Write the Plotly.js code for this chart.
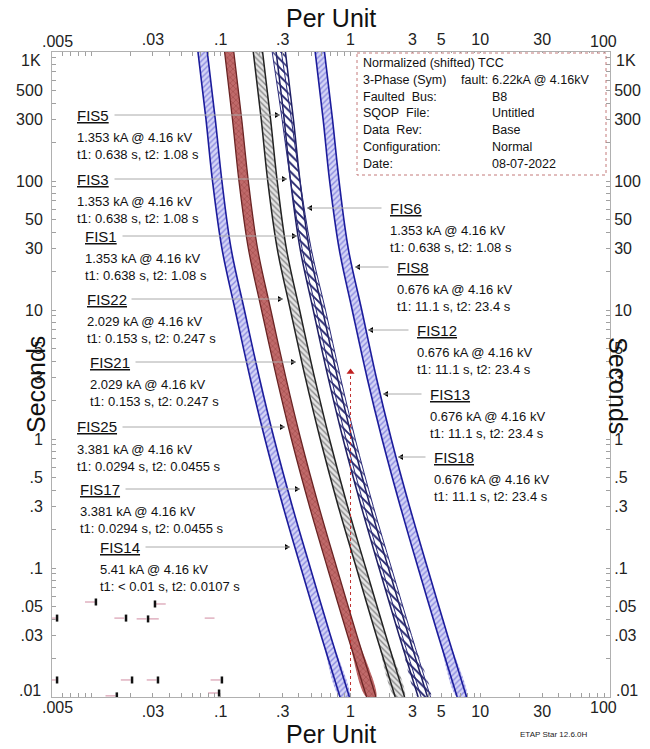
<!DOCTYPE html>
<html><head><meta charset="utf-8">
<script src="https://cdn.plot.ly/plotly-3.0.1.min.js"></script>
<style>html,body{margin:0;padding:0;background:#fff}</style>
</head><body><div id="chart" style="width:650px;height:749px"></div>
<script>
// ---------- DATA ----------
const times = [1000, 300, 100, 30, 10, 3, 1, 0.3, 0.1, 0.03, 0.01];
// FIS14 (5.41 kA)
const fis14Min = [0.0667, 0.0769, 0.0863, 0.102, 0.129, 0.168, 0.219, 0.302, 0.415, 0.593, 0.830];
const fis14Max = [0.0787, 0.0907, 0.102, 0.120, 0.152, 0.198, 0.258, 0.356, 0.490, 0.700, 0.980];
// FIS25 / FIS17 (3.381 kA)
const fis25Min = [0.107, 0.123, 0.138, 0.163, 0.206, 0.269, 0.350, 0.483, 0.664, 0.949, 1.33];
const fis25Max = [0.126, 0.145, 0.163, 0.192, 0.243, 0.317, 0.413, 0.570, 0.784, 1.12, 1.57];
// FIS22 / FIS21 (2.029 kA)
const fis22Min = [0.178, 0.205, 0.230, 0.272, 0.344, 0.448, 0.584, 0.805, 1.11, 1.58, 2.21];
const fis22Max = [0.210, 0.242, 0.272, 0.320, 0.405, 0.528, 0.688, 0.949, 1.31, 1.87, 2.61];
// FIS5 / FIS3 / FIS1 (1.353 kA)
const fis5Min = [0.267, 0.308, 0.345, 0.408, 0.516, 0.672, 0.876, 1.21, 1.66, 2.37, 3.32];
const fis5Max = [0.315, 0.363, 0.408, 0.480, 0.608, 0.792, 1.03, 1.42, 1.96, 2.80, 3.92];
// FIS6 (1.353 kA) - slightly different curve, crossing the group above
const fis6Min = [0.249, 0.297, 0.345, 0.423, 0.544, 0.709, 0.924, 1.277, 1.751, 2.50, 3.50];
const fis6Max = [0.293, 0.350, 0.408, 0.497, 0.641, 0.836, 1.087, 1.498, 2.068, 2.954, 4.136];
// FIS8 / FIS12 / FIS13 / FIS18 (0.676 kA)
const fis8Min = [0.534, 0.615, 0.690, 0.816, 1.03, 1.34, 1.75, 2.42, 3.32, 4.74, 6.64];
const fis8Max = [0.630, 0.726, 0.816, 0.960, 1.22, 1.58, 2.06, 2.85, 3.92, 5.60, 7.84];

// fault marker
const faultPU = [1, 1];
const faultT = [0.01, 3.3];

// small device marks at lower left
const markPU = [0.00547, 0.0109, 0.0186, 0.0275, 0.0311, 0.00547, 0.0207, 0.0328, 0.102, 0.0158, 0.097];
const markT  = [0.0409, 0.0545, 0.0409, 0.0403, 0.0526, 0.01355, 0.01355, 0.01355, 0.01355, 0.0102, 0.01074];
const markLabelPU = [0.0049, 0.0098, 0.0165, 0.0245, 0.0345, 0.0049, 0.0185, 0.0293, 0.091, 0.0141, 0.087, 0.0305, 0.082];
const markLabelT  = [0.0409, 0.0545, 0.0409, 0.0403, 0.0526, 0.01355, 0.01355, 0.01355, 0.01355, 0.0102, 0.01074, 0.0403, 0.0409];

// tick labels
const xTickVals = [0.005, 0.03, 0.1, 0.3, 1, 3, 5, 10, 30, 100];
const xTickText = ['.005', '.03', '.1', '.3', '1', '3', '5', '10', '30', '100'];
const yTickVals = [1000, 500, 300, 100, 50, 30, 10, 5, 3, 1, 0.5, 0.3, 0.1, 0.05, 0.03, 0.01];
const yTickText = ['1K', '500', '300', '100', '50', '30', '10', '5', '3', '1', '.5', '.3', '.1', '.05', '.03', '.01'];

// labels
const fisNames = ['FIS5', 'FIS3', 'FIS1', 'FIS22', 'FIS21', 'FIS25', 'FIS17', 'FIS14',
                  'FIS6', 'FIS8', 'FIS12', 'FIS13', 'FIS18'];
const fisCurrent = ['1.353 kA @ 4.16 kV', '1.353 kA @ 4.16 kV', '1.353 kA @ 4.16 kV',
                    '2.029 kA @ 4.16 kV', '2.029 kA @ 4.16 kV',
                    '3.381 kA @ 4.16 kV', '3.381 kA @ 4.16 kV', '5.41 kA @ 4.16 kV',
                    '1.353 kA @ 4.16 kV', '0.676 kA @ 4.16 kV', '0.676 kA @ 4.16 kV',
                    '0.676 kA @ 4.16 kV', '0.676 kA @ 4.16 kV'];
const fisTimes = ['t1: 0.638 s, t2: 1.08 s', 't1: 0.638 s, t2: 1.08 s', 't1: 0.638 s, t2: 1.08 s',
                  't1: 0.153 s, t2: 0.247 s', 't1: 0.153 s, t2: 0.247 s',
                  't1: 0.0294 s, t2: 0.0455 s', 't1: 0.0294 s, t2: 0.0455 s',
                  't1: < 0.01 s, t2: 0.0107 s',
                  't1: 0.638 s, t2: 1.08 s', 't1: 11.1 s, t2: 23.4 s', 't1: 11.1 s, t2: 23.4 s',
                  't1: 11.1 s, t2: 23.4 s', 't1: 11.1 s, t2: 23.4 s'];

const infoLeft = ['Normalized (shifted) TCC', '3-Phase (Sym)', 'Faulted\u00a0 Bus:', 'SQOP\u00a0 File:',
                  'Data\u00a0 Rev:', 'Configuration:', 'Date:'];
const infoMid = ['', 'fault:', '', '', '', '', ''];
const infoRight = ['', '6.22kA @ 4.16kV', 'B8', 'Untitled', 'Base', 'Normal', '08-07-2022'];

// ---------- LAYOUT HELPERS (pixel placement) ----------
const L = 52, R = 610, T = 52, B = 697;
const px = v => (v - L) / (R - L);
const py = v => (B - v) / (B - T);
const FONT = 'Liberation Sans, Arial, Helvetica, sans-serif';

// label placement: [nameX, nameY, tipX, tailX, side]
const labelPos = [
  [75, 115, 280, 113, 'l'], [75, 179, 287, 113, 'l'], [83, 236, 297, 121, 'l'],
  [85, 299, 283, 130, 'l'], [88, 362, 296, 134, 'l'], [75, 427, 285, 121, 'l'],
  [78, 489, 300, 124, 'l'], [98, 547, 290, 144, 'l'],
  [388, 208, 307, 383, 'r'], [395, 267, 355, 390, 'r'], [415, 330, 368, 410, 'r'],
  [428, 394, 383, 423, 'r'], [432, 457, 398, 427, 'r']
];

// ---------- TRACES ----------
const traces = [];
function band(minArr, maxArr, fillStyle, edgeColor, edgeWidth) {
  const xs = minArr.concat(maxArr.slice().reverse());
  const ys = times.concat(times.slice().reverse());
  if (fillStyle) traces.push({ x: xs, y: ys, mode: 'lines', fill: 'toself', line: { width: 0, color: 'rgba(0,0,0,0)', shape: 'spline' },
              hoverinfo: 'skip', showlegend: false, fillcolor: fillStyle.bg, fillpattern: fillStyle.pattern });
  [minArr, maxArr].forEach(a => traces.push({ x: a, y: times, mode: 'lines',
     line: { color: edgeColor, width: edgeWidth, shape: 'spline' }, hoverinfo: 'skip', showlegend: false }));
}
const bluePat = { bg: '#c9c9f2', pattern: { shape: '/', fgcolor: '#8d8de0', bgcolor: '#d4d4f6', size: 4, solidity: 0.35 } };
const redPat = { bg: '#b86262', pattern: { shape: 'x', fgcolor: '#a24c4c', bgcolor: '#c06a6a', size: 4, solidity: 0.3 } };
const grayPat = { bg: '#d6d6d6', pattern: { shape: '\\', fgcolor: '#8a8a8a', bgcolor: '#e4e4e4', size: 4, solidity: 0.35 } };
const navyPat = { bg: '#ffffff', pattern: { shape: '\\', fgcolor: '#2a2a70', bgcolor: '#ffffff', size: 6, solidity: 0.25 } };
const navyPat2 = { bg: 'rgba(255,255,255,0)', pattern: { shape: '\\', fgcolor: '#2a2a70', bgcolor: 'rgba(255,255,255,0)', size: 6, solidity: 0.2 } };

band(fis14Min, fis14Max, bluePat, '#1c1c9c', 1.6);
band(fis25Min, fis25Max, redPat, '#6a2424', 1.3);
band(fis22Min, fis22Max, grayPat, '#222222', 1.5);
band(fis5Min, fis5Max, navyPat, '#1e1e64', 1.5);
band(fis6Min, fis6Max, navyPat2, '#2a2a7a', 1.0);
band(fis8Min, fis8Max, bluePat, '#1c1c9c', 1.6);

traces.push({ x: faultPU, y: faultT, mode: 'lines', line: { color: '#c03030', width: 1, dash: 'dot' },
              hoverinfo: 'skip', showlegend: false });
traces.push({ x: [faultPU[1]], y: [faultT[1]], mode: 'markers',
              marker: { symbol: 'triangle-up', color: '#c02020', size: 7 }, hoverinfo: 'skip', showlegend: false });
traces.push({ x: markLabelPU, y: markLabelT, mode: 'markers',
              marker: { symbol: 'line-ew', size: 7, line: { color: '#d08aa0', width: 1 } }, hoverinfo: 'skip', showlegend: false });
traces.push({ x: markPU, y: markT, mode: 'markers',
              marker: { symbol: 'line-ns', size: 5, line: { color: '#111', width: 2.5 } }, hoverinfo: 'skip', showlegend: false });
// dummy trace for overlay axes
traces.push({ x: [1], y: [1], xaxis: 'x2', yaxis: 'y2', mode: 'markers', marker: { opacity: 0 }, hoverinfo: 'skip', showlegend: false });

// ---------- AXES ----------
function minorVals(lo, hi) { const v = []; for (let e = lo; e < hi; e++) for (let m = 1; m < 10; m++) v.push(m * Math.pow(10, e)); v.push(Math.pow(10, hi)); return v; }
function axisTicks(vals, labVals, labText, skipEnds) {
  const lo = Math.min(...labVals), hi = Math.max(...labVals);
  const tv = vals.filter(v => v >= lo * 0.999 && v <= hi * 1.001);
  const tt = tv.map(v => {
    const i = labVals.findIndex(l => Math.abs(l - v) / l < 1e-6);
    if (i < 0) return '';
    if (skipEnds && (Math.abs(v - lo) / lo < 1e-6 || Math.abs(v - hi) / hi < 1e-6)) return '';
    return labText[i];
  });
  return { tickvals: tv, ticktext: tt };
}
const xt = axisTicks(minorVals(-3, 2), xTickVals, xTickText, true);
const yt = axisTicks(minorVals(-2, 3), yTickVals, yTickText, true);
const tickFont = { family: FONT, size: 16, color: '#222' };
const common = { type: 'log', showgrid: false, zeroline: false, showline: true, linecolor: '#b0b0b0', linewidth: 1,
                 ticks: 'inside', ticklen: 4, tickcolor: '#a0a0a0', tickwidth: 1, tickmode: 'array', tickfont: tickFont };
const xaxis = Object.assign({}, common, { range: [Math.log10(0.005), 2], tickvals: xt.tickvals, ticktext: xt.ticktext });
const xaxis2 = Object.assign({}, common, { range: [Math.log10(0.005), 2], tickvals: xt.tickvals, ticktext: xt.ticktext, overlaying: 'x', side: 'top', anchor: 'y' });
const yaxis = Object.assign({}, common, { range: [-2, 3], tickvals: yt.tickvals, ticktext: yt.ticktext, ticklabelstandoff: 5 });
const yaxis2 = Object.assign({}, common, { range: [-2, 3], tickvals: yt.tickvals, ticktext: yt.ticktext, overlaying: 'y', side: 'right', anchor: 'x' });

// ---------- ANNOTATIONS & SHAPES ----------
const ann = [];
const shapes = [];
// end tick labels, pulled inside as in the reference
const endLab = (x, y, t, xa) => ann.push({ xref: 'paper', yref: 'paper', x: px(x), y: py(y), text: t, showarrow: false,
                                           xanchor: xa, yanchor: 'middle', font: tickFont });
endLab(43, 60, yTickText[0], 'right'); endLab(43, 690, yTickText[yTickText.length - 1], 'right');
endLab(614, 60, yTickText[0], 'left'); endLab(614, 690, yTickText[yTickText.length - 1], 'left');
endLab(57, 41, xTickText[0], 'center'); endLab(603, 41, xTickText[xTickText.length - 1], 'center');
endLab(57, 707, xTickText[0], 'center'); endLab(603, 707, xTickText[xTickText.length - 1], 'center');

fisNames.forEach((n, i) => {
  const [nx, ny, tipX, tailX, side] = labelPos[i];
  ann.push({ xref: 'paper', yref: 'paper', x: px(nx), y: py(ny), xanchor: 'left', yanchor: 'middle', showarrow: false,
             text: '<span style="text-decoration:underline">' + n + '</span>', font: { family: FONT, size: 15, color: '#111' } });
  ann.push({ xref: 'paper', yref: 'paper', x: px(nx), y: py(ny + 31), xanchor: 'left', yanchor: 'middle', showarrow: false, align: 'left',
             text: fisCurrent[i] + '<br>' + fisTimes[i], font: { family: FONT, size: 13, color: '#111' } });
  ann.push({ xref: 'paper', yref: 'paper', x: px(tipX), y: py(ny), ax: tailX - tipX, ay: 0, text: '', showarrow: true,
             arrowhead: 0, arrowwidth: 1, arrowcolor: '#aaaaaa', standoff: 0, startstandoff: 0 });
  const d = side === 'l' ? -1 : 1;
  const x0 = px(tipX), x1 = px(tipX + 5 * d), y0 = py(ny - 3), y1 = py(ny + 3);
  shapes.push({ type: 'path', xref: 'paper', yref: 'paper', path: `M${x0},${py(ny)} L${x1},${y0} L${x1},${y1} Z`,
                fillcolor: '#000', line: { width: 0 } });
});
// info box
shapes.push({ type: 'rect', xref: 'paper', yref: 'paper', x0: px(357), x1: px(606), y0: py(53), y1: py(175),
              fillcolor: '#fff', line: { color: '#c47a7a', width: 1, dash: 'dot' } });
infoLeft.forEach((s, i) => {
  const yy = py(63 + i * 16.8);
  ann.push({ xref: 'paper', yref: 'paper', x: px(361), y: yy, xanchor: 'left', yanchor: 'middle', showarrow: false, text: s,
             font: { family: FONT, size: 12.5, color: '#111' } });
  if (infoMid[i]) ann.push({ xref: 'paper', yref: 'paper', x: px(459), y: yy, xanchor: 'left', yanchor: 'middle', showarrow: false, text: infoMid[i],
             font: { family: FONT, size: 12.5, color: '#111' } });
  if (infoRight[i]) ann.push({ xref: 'paper', yref: 'paper', x: px(490), y: yy, xanchor: 'left', yanchor: 'middle', showarrow: false, text: infoRight[i],
             font: { family: FONT, size: 12.5, color: '#111' } });
});
// axis titles
const titleFont = { family: FONT, size: 25, color: '#111' };
ann.push({ xref: 'paper', yref: 'paper', x: 0.5, y: py(18), text: 'Per Unit', showarrow: false, font: titleFont, yanchor: 'middle' });
ann.push({ xref: 'paper', yref: 'paper', x: 0.5, y: py(734), text: 'Per Unit', showarrow: false, font: titleFont, yanchor: 'middle' });
ann.push({ xref: 'paper', yref: 'paper', x: px(20), y: py(385), text: 'Seconds', showarrow: false, font: titleFont, textangle: -90 });
ann.push({ xref: 'paper', yref: 'paper', x: px(634), y: py(385), text: 'Seconds', showarrow: false, font: titleFont, textangle: 90 });
ann.push({ xref: 'paper', yref: 'paper', x: px(590), y: py(741), text: 'ETAP Star 12.6.0H', showarrow: false,
           font: { family: FONT, size: 8, color: '#222' } });

const layout = {
  width: 650, height: 749, margin: { l: L, r: 650 - R, t: T, b: 749 - B, pad: 0 },
  paper_bgcolor: '#fff', plot_bgcolor: '#fff', showlegend: false,
  xaxis, xaxis2, yaxis, yaxis2, annotations: ann, shapes: shapes, font: { family: FONT }
};
Plotly.newPlot('chart', traces, layout, { staticPlot: true, displayModeBar: false });
</script></body></html>
